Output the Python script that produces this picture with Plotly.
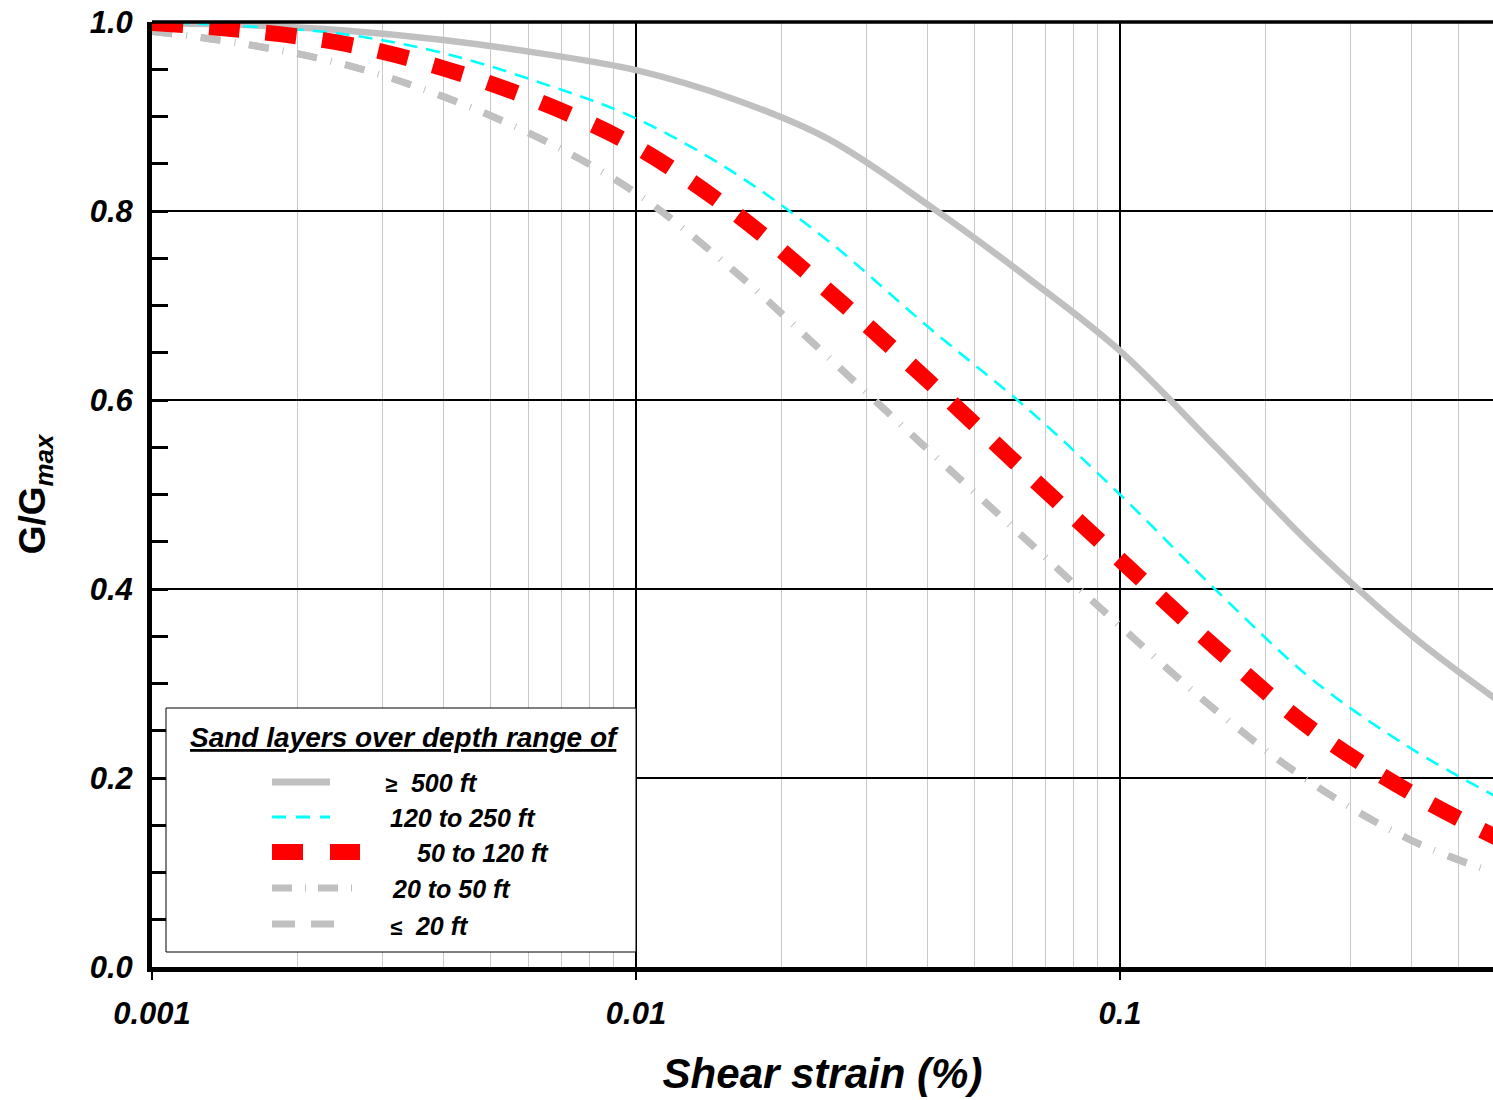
import plotly.graph_objects as go

# ---------------- data ----------------
strain = [0.001, 0.0015, 0.0025, 0.004, 0.0065, 0.01, 0.016, 0.025, 0.04,
          0.065, 0.1, 0.16, 0.25, 0.4, 0.6]

g_500_plus = [0.999, 0.997, 0.991, 0.981, 0.966, 0.949, 0.918, 0.876, 0.807,
              0.728, 0.652, 0.547, 0.445, 0.351, 0.283]
g_120_250 = [1.000, 0.996, 0.987, 0.967, 0.934, 0.898, 0.840, 0.768, 0.678,
             0.589, 0.500, 0.396, 0.304, 0.231, 0.180]
g_50_120 = [0.999, 0.992, 0.977, 0.951, 0.913, 0.868, 0.798, 0.715, 0.621,
            0.520, 0.431, 0.335, 0.251, 0.184, 0.137]
g_20_50 = [0.990, 0.978, 0.955, 0.921, 0.874, 0.819, 0.736, 0.645, 0.548,
           0.449, 0.361, 0.269, 0.194, 0.134, 0.099]
g_20_less = [0.990, 0.978, 0.955, 0.921, 0.874, 0.819, 0.736, 0.645, 0.548,
             0.449, 0.361, 0.269, 0.194, 0.134, 0.099]

x_tick_vals = [0.001, 0.01, 0.1]
x_tick_text = ["0.001", "0.01", "0.1"]
x_minor_vals = [k * 10.0 ** e for e in (-3, -2, -1) for k in range(2, 10)]
y_tick_vals = [0.0, 0.2, 0.4, 0.6, 0.8, 1.0]
y_tick_text = ["0.0", "0.2", "0.4", "0.6", "0.8", "1.0"]
y_minor_vals = [round(0.05 * i, 2) for i in range(1, 20) if i % 4 != 0]

legend_title = "Sand layers over depth range of"
legend_labels = ["≥  500 ft", "120 to 250 ft", "50 to 120 ft", "20 to 50 ft", "≤  20 ft"]

# ---------------- styling ----------------
FONT = "Liberation Sans, Arial, sans-serif"
GREY = "#c0c0c0"
W, H = 1493, 1100
ML, MR, MT, MB = 152, 0, 22, 133
PW, PH = W - ML - MR, H - MT - MB


def pxx(x):
    return (x - ML) / PW


def pxy(y):
    return (H - MB - y) / PH


SPL = dict(shape="spline", smoothing=1.0)

fig = go.Figure()

fig.add_trace(go.Scatter(x=strain, y=g_500_plus, mode="lines", name="≥ 500 ft",
                         line=dict(color=GREY, width=6.5, **SPL)))
fig.add_trace(go.Scatter(x=strain, y=g_120_250, mode="lines", name="120 to 250 ft",
                         line=dict(color="#00ffff", width=2.6, dash="14px,9px", **SPL)))
fig.add_trace(go.Scatter(x=strain, y=g_20_50, mode="lines", name="20 to 50 ft",
                         line=dict(color=GREY, width=7, dash="20px,14px,1px,14px", **SPL)))
fig.add_trace(go.Scatter(x=strain, y=g_20_less, mode="lines", name="≤ 20 ft",
                         line=dict(color=GREY, width=7, dash="20px,29px", **SPL)))
fig.add_trace(go.Scatter(x=strain, y=g_50_120, mode="lines", name="50 to 120 ft",
                         line=dict(color="#ff0000", width=16, dash="31px,26px", **SPL)))

tickfont = dict(family=FONT, size=31, color="black", weight="bold", style="italic")

fig.update_layout(
    width=W, height=H,
    margin=dict(l=ML, r=MR, t=MT, b=MB, autoexpand=False),
    paper_bgcolor="white", plot_bgcolor="white",
    showlegend=False,
    xaxis=dict(
        type="log", range=[-3, -0.2293],
        tickvals=x_tick_vals, ticktext=x_tick_text,
        ticks="outside", ticklen=8, tickwidth=2, tickcolor="black",
        tickfont=tickfont, ticklabelstandoff=7,
        showline=True, linewidth=5, linecolor="black",
        showgrid=True, gridcolor="black", gridwidth=1.6,
        minor=dict(tickvals=x_minor_vals, showgrid=True, gridcolor="#c8c8c8",
                   gridwidth=1, ticks=""),
        zeroline=False, layer="below traces",
        title=dict(text="Shear strain (%)", standoff=30,
                   font=dict(family=FONT, size=42, color="black",
                             weight="bold", style="italic")),
    ),
    yaxis=dict(
        range=[0, 1],
        tickvals=y_tick_vals, ticktext=y_tick_text,
        ticks="inside", ticklen=16, tickwidth=2.5, tickcolor="black",
        tickfont=tickfont, ticklabelstandoff=8,
        showline=True, linewidth=5, linecolor="black",
        showgrid=True, gridcolor="black", gridwidth=1.6,
        minor=dict(tickvals=y_minor_vals, ticks="inside", ticklen=16,
                   tickwidth=2.5, tickcolor="black", showgrid=False),
        zeroline=False, layer="below traces",
        title=dict(text="G/G<sub><i>max</i></sub>", standoff=34,
                   font=dict(family=FONT, size=37, color="black", weight="bold")),
    ),
    yaxis2=dict(
        overlaying="y", side="right", anchor="x", range=[0, 1],
        tickvals=y_tick_vals, ticks="inside", ticklen=14, tickwidth=2.5,
        tickcolor="black", showticklabels=False, showgrid=False,
        showline=False, zeroline=False,
        minor=dict(tickvals=y_minor_vals, ticks="inside", ticklen=14,
                   tickwidth=2.5, tickcolor="black", showgrid=False),
    ),
)

shapes = []
# top frame line
shapes.append(dict(type="line", xref="paper", yref="paper", x0=0, x1=1, y0=1, y1=1,
                   line=dict(color="black", width=3.5), layer="above"))
# legend box
shapes.append(dict(type="rect", xref="paper", yref="paper",
                   x0=pxx(166), x1=pxx(636), y0=pxy(952), y1=pxy(708),
                   fillcolor="white", line=dict(color="black", width=1), layer="above"))

legend_rows = [782, 817, 852, 888, 924]
legend_lines = [
    dict(x1=330, color=GREY, width=7, dash="solid"),
    dict(x1=330, color="#00ffff", width=3, dash="14px,10px"),
    dict(x1=360, color="#ff0000", width=16, dash="31px,27px"),
    dict(x1=353, color=GREY, width=7, dash="20px,13px,1px,12px"),
    dict(x1=334, color=GREY, width=7, dash="23px,16px"),
]
for yrow, spec in zip(legend_rows, legend_lines):
    shapes.append(dict(type="line", xref="paper", yref="paper",
                       x0=pxx(272), x1=pxx(spec["x1"]), y0=pxy(yrow), y1=pxy(yrow),
                       line=dict(color=spec["color"], width=spec["width"], dash=spec["dash"]),
                       layer="above"))
fig.update_layout(shapes=shapes)

legfont = dict(family=FONT, size=25, color="black", weight="bold", style="italic")
annotations = [dict(xref="paper", yref="paper", x=pxx(404), y=pxy(737),
                    xanchor="center", yanchor="middle", showarrow=False,
                    text="<u>" + legend_title + "</u>",
                    font=dict(family=FONT, size=28, color="black", weight="bold", style="italic"))]
label_x = [383, 388, 415, 390, 388]
label_y = [783, 818, 853, 889, 926]
for lbl, lx, ly in zip(legend_labels, label_x, label_y):
    txt = lbl
    if lbl.startswith("≥") or lbl.startswith("≤"):
        txt = '<span style="font-size:22px">' + lbl[0] + "</span>" + lbl[1:]
    annotations.append(dict(xref="paper", yref="paper", x=pxx(lx), y=pxy(ly),
                            xanchor="left", yanchor="middle", showarrow=False,
                            text=txt, font=legfont))
fig.update_layout(annotations=annotations)

fig.write_html("out.html")
